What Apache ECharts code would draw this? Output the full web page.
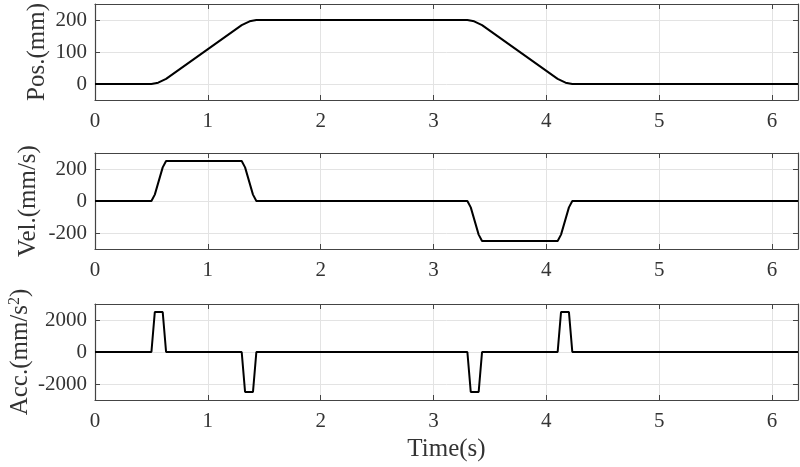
<!DOCTYPE html>
<html><head><meta charset="utf-8">
<script src="https://cdn.jsdelivr.net/npm/echarts@6/dist/echarts.min.js"></script>
<style>html,body{margin:0;padding:0;background:#fff}#c{width:800px;height:467px}</style>
</head><body><div id="c"></div>
<script>
const posT = [0, 0.5, 0.56, 0.63, 1.3, 1.37, 1.43, 3.3, 3.36, 3.43, 4.1, 4.17, 4.23, 6.23];
const posV = [0, 0, 4, 16, 184, 196, 200, 200, 196, 184, 16, 4, 0, 0];
const velT = [0, 0.5, 0.53, 0.6, 0.63, 1.3, 1.33, 1.4, 1.43, 3.3, 3.33, 3.4, 3.43, 4.1, 4.13, 4.2, 4.23, 6.23];
const velV = [0, 0, 40, 210, 250, 250, 210, 40, 0, 0, -40, -210, -250, -250, -210, -40, 0, 0];
const accT = [0, 0.5, 0.53, 0.6, 0.63, 1.3, 1.33, 1.4, 1.43, 3.3, 3.33, 3.4, 3.43, 4.1, 4.13, 4.2, 4.23, 6.23];
const accV = [0, 0, 2500, 2500, 0, 0, -2500, -2500, 0, 0, -2500, -2500, 0, 0, 2500, 2500, 0, 0];
const xTicks = [0, 1, 2, 3, 4, 5, 6];
const yNames = ['Pos.(mm)', 'Vel.(mm/s)', 'Acc.(mm/s{sup|2})'];
const yRanges = [[-50, 250, 100], [-300, 300, 200], [-3000, 3000, 2000]];
const xLabel = 'Time(s)';

const FONT = 'Liberation Serif';
const TXT = '#333';
const FRAME = '#444';
const GRIDC = '#e3e3e3';
const tops = [4, 153, 304];
const nameGaps = [45, 54, 62];
const H = 96;
const grids = tops.map(t => ({left: 95, right: 2, top: t, height: H, outerBoundsMode: 'none', containLabel: false}));
const xAxis = [], yAxis = [], series = [];
const data = [[posT, posV], [velT, velV], [accT, accV]];
grids.forEach((g, i) => {
  const [ymin, ymax, yint] = yRanges[i];
  xAxis.push({
    type: 'value', gridIndex: i, min: 0, max: 6.23, interval: 1, position: 'bottom',
    axisLine: {show: true, onZero: false, lineStyle: {color: FRAME, width: 1.2}},
    axisTick: {show: true, inside: true, length: 5, lineStyle: {color: FRAME}},
    axisLabel: {show: true, fontFamily: FONT, fontSize: 21, color: TXT, margin: 11,
      formatter: v => xTicks.includes(v) ? String(v) : ''},
    splitLine: {show: true, lineStyle: {color: GRIDC, width: 1}},
    name: i === 2 ? xLabel : '', nameLocation: 'middle', nameGap: 37, nameMoveOverlap: false,
    nameTextStyle: {fontFamily: FONT, fontSize: 25, color: TXT}
  });
  xAxis.push({
    type: 'value', gridIndex: i, min: 0, max: 6.23, interval: 1, position: 'top',
    axisLine: {show: true, onZero: false, lineStyle: {color: FRAME, width: 1.2}},
    axisTick: {show: true, inside: true, length: 5, lineStyle: {color: FRAME}},
    axisLabel: {show: false}, splitLine: {show: false}
  });
  const tickVals = [];
  for (let v = -2 * yint; v <= 2 * yint; v += yint) if (v > ymin && v < ymax) tickVals.push(v);
  const yCommon = {
    type: 'value', gridIndex: i, min: ymin, max: ymax,
    axisLine: {show: true, onZero: false, lineStyle: {color: FRAME, width: 1.2}},
    axisTick: {show: true, inside: true, length: 5, lineStyle: {color: FRAME},
      customValues: tickVals},
  };
  yAxis.push(Object.assign({}, yCommon, {
    position: 'left',
    axisLabel: {show: true, fontFamily: FONT, fontSize: 21, color: TXT, margin: 8,
      customValues: tickVals, formatter: v => String(v)},
    splitLine: {show: true, lineStyle: {color: GRIDC, width: 1}, customValues: tickVals},
    name: yNames[i], nameLocation: 'middle', nameGap: nameGaps[i], nameRotate: 90,
    nameMoveOverlap: false,
    nameTextStyle: {fontFamily: FONT, fontSize: 25, color: TXT,
      rich: {sup: {fontFamily: FONT, fontSize: 16, color: TXT, verticalAlign: 'top', padding: [0, 0, 10, 0]}}}
  }));
  yAxis.push(Object.assign({}, yCommon, {
    position: 'right', axisLabel: {show: false}, splitLine: {show: false}
  }));
  const [ts, vs] = data[i];
  series.push({
    type: 'line', xAxisIndex: 2 * i, yAxisIndex: 2 * i, showSymbol: false, symbol: 'none',
    data: ts.map((t, k) => [t, vs[k]]), lineStyle: {color: '#000', width: 2}, animation: false
  });
});
const chart = echarts.init(document.getElementById('c'));
chart.setOption({animation: false, grid: grids, xAxis, yAxis, series});
</script></body></html>
